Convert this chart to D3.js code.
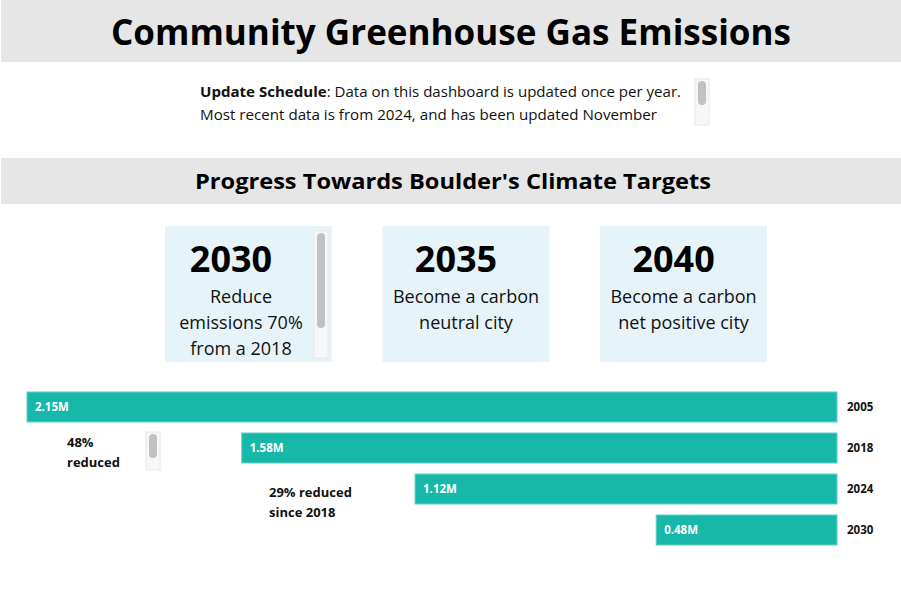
<!DOCTYPE html>
<html>
<head>
<meta charset="utf-8">
<script src="https://cdn.jsdelivr.net/npm/d3@7"></script>
<style>
  body { margin: 0; background: #fff; }
  svg { display: block; font-family: "Segoe UI", "Open Sans", "Noto Sans", sans-serif; }
</style>
</head>
<body>
<svg width="901" height="589"></svg>
<script>
"use strict";

const title = "Community Greenhouse Gas Emissions";
const subtitle = "Progress Towards Boulder's Climate Targets";
const updateBold = "Update Schedule";
const updateLines = [
  ": Data on this dashboard is updated once per year.",
  "Most recent data is from 2024, and has been updated November"
];

const targetYears = ["2030", "2035", "2040"];
const targetTexts = [
  ["Reduce", "emissions 70%", "from a 2018"],
  ["Become a carbon", "neutral city"],
  ["Become a carbon", "net positive city"]
];

const years = ["2005", "2018", "2024", "2030"];
const emissions = [2.15, 1.58, 1.12, 0.48];
const valueLabels = ["2.15M", "1.58M", "1.12M", "0.48M"];

const notes = [
  ["48%", "reduced"],
  ["29% reduced", "since 2018"]
];

const svg = d3.select("svg");
const width = +svg.attr("width");

const grey = "#e6e6e6";
const cardFill = "#e6f4fa";
const barFill = "#17b8a9";

// header bands
svg.append("rect").attr("x", 1).attr("y", 0).attr("width", width - 1).attr("height", 62).attr("fill", grey);
svg.append("text")
  .attr("x", 451).attr("y", 45)
  .attr("text-anchor", "middle")
  .attr("font-size", 36).attr("font-weight", "bold")
  .attr("textLength", 680).attr("lengthAdjust", "spacingAndGlyphs")
  .text(title);

svg.append("rect").attr("x", 1).attr("y", 158).attr("width", width - 1).attr("height", 46).attr("fill", grey);
svg.append("text")
  .attr("x", 453).attr("y", 189)
  .attr("text-anchor", "middle")
  .attr("font-size", 22).attr("font-weight", "bold")
  .attr("textLength", 516).attr("lengthAdjust", "spacingAndGlyphs")
  .text(subtitle);

// update schedule text
const upd = svg.append("text").attr("font-size", 15).attr("fill", "#111");
const l1 = upd.append("tspan").attr("x", 200).attr("y", 97);
l1.append("tspan").attr("font-weight", "bold").text(updateBold);
l1.append("tspan").text(updateLines[0]);
svg.append("text").attr("font-size", 15).attr("fill", "#111")
  .attr("x", 200).attr("y", 120)
  .attr("textLength", 457).attr("lengthAdjust", "spacingAndGlyphs")
  .text(updateLines[1]);
upd.attr("textLength", 481).attr("lengthAdjust", "spacingAndGlyphs");

const scrollbar = (g, x, y, h, thumbH) => {
  g.append("rect").attr("x", x).attr("y", y).attr("width", 14).attr("height", h)
    .attr("fill", "#f7f7f7").attr("stroke", "#e8e8e8");
  g.append("rect").attr("x", x + 3).attr("y", y + 2).attr("width", 8).attr("height", thumbH)
    .attr("rx", 4).attr("fill", "#c1c1c1");
};
scrollbar(svg, 695, 79, 46, 24);

// target cards
const cardX = d3.scaleBand().domain(targetYears).range([165, 767]).paddingInner(0.233);
const cards = svg.selectAll("g.card")
  .data(targetYears)
  .join("g")
  .attr("class", "card")
  .attr("transform", d => `translate(${cardX(d)},226)`);

cards.append("rect")
  .attr("width", cardX.bandwidth()).attr("height", 136)
  .attr("fill", cardFill);

cards.append("text")
  .attr("x", (d, i) => (i === 0 ? 66 : cardX.bandwidth() / 2 - 10))
  .attr("y", 46)
  .attr("text-anchor", "middle")
  .attr("font-size", 36).attr("font-weight", "bold")
  .text(d => d);

cards.each(function(d, i) {
  const cx = i === 0 ? 76 : cardX.bandwidth() / 2;
  d3.select(this).selectAll("text.line")
    .data(targetTexts[i])
    .join("text")
    .attr("class", "line")
    .attr("x", cx)
    .attr("y", (t, j) => 77 + j * 26)
    .attr("text-anchor", "middle")
    .attr("font-size", 18)
    .attr("fill", "#111")
    .text(t => t);
});
scrollbar(svg, 314, 231, 127, 95);

// bars
const x = d3.scaleLinear().domain([0, d3.max(emissions)]).range([837, 27]);
const y = d3.scaleBand().domain(years).range([386.5, 550.5]).paddingInner(0.268).paddingOuter(0.134);

const bars = svg.append("g");
bars.selectAll("rect")
  .data(years)
  .join("rect")
  .attr("x", (d, i) => x(emissions[i]))
  .attr("y", d => y(d))
  .attr("width", (d, i) => x(0) - x(emissions[i]))
  .attr("height", y.bandwidth())
  .attr("fill", barFill)
  .attr("stroke", "#63d1c6")
  .attr("stroke-width", 1);

bars.selectAll("text.value")
  .data(years)
  .join("text")
  .attr("class", "value")
  .attr("x", (d, i) => x(emissions[i]) + 8)
  .attr("y", d => y(d) + y.bandwidth() / 2 + 4)
  .attr("font-size", 11.5).attr("font-weight", "bold")
  .attr("fill", "#fff")
  .text((d, i) => valueLabels[i]);

const yAxis = svg.append("g")
  .attr("transform", "translate(837,0)")
  .call(d3.axisRight(y).tickSize(0).tickPadding(10));
yAxis.select(".domain").remove();
yAxis.selectAll("text")
  .attr("font-family", "\"Segoe UI\", \"Open Sans\", \"Noto Sans\", sans-serif")
  .attr("font-size", 11.5).attr("font-weight", "bold").attr("fill", "#111");

// annotations
const noteX = [67, 269];
const noteY = [447, 497];
notes.forEach((lines, i) => {
  svg.append("g").selectAll("text")
    .data(lines)
    .join("text")
    .attr("x", noteX[i])
    .attr("y", (t, j) => noteY[i] + j * 20)
    .attr("font-size", 13).attr("font-weight", "bold")
    .attr("fill", "#111")
    .text(t => t);
});
scrollbar(svg, 146, 432, 38, 24);
</script>
</body>
</html>
